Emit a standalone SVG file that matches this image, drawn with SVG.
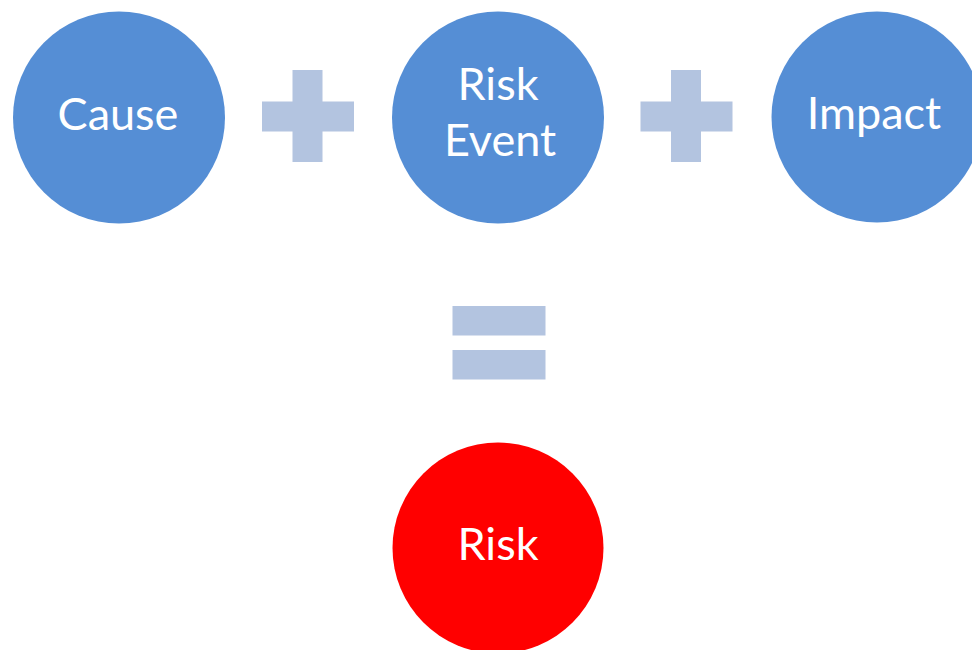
<svg xmlns="http://www.w3.org/2000/svg" width="972" height="650" viewBox="0 0 972 650">
<style>
.node{fill:#558ED5}
.risk{fill:#FF0000}
.op{fill:#B3C4E0}
.lbl{font-family:Lato,"Open Sans",sans-serif;font-size:45px;fill:#FFFFFF;text-anchor:middle}
</style>
<rect width="972" height="650" fill="#FFFFFF"/>
<g id="cause">
<circle class="node" cx="119" cy="117.5" r="106"/>
<text class="lbl" x="118" y="130">Cause</text>
</g>
<g id="plus1">
<rect class="op" x="262" y="101.5" width="92" height="30"/>
<rect class="op" x="292.5" y="70" width="30" height="92"/>
</g>
<g id="risk-event">
<circle class="node" cx="498" cy="117.5" r="106"/>
<text class="lbl" x="498" y="100">Risk</text>
<text class="lbl" x="500" y="156">Event</text>
</g>
<g id="plus2">
<rect class="op" x="640.5" y="101.5" width="92" height="30"/>
<rect class="op" x="671" y="70" width="30" height="92"/>
</g>
<g id="impact">
<circle class="node" cx="877" cy="117" r="105.5"/>
<text class="lbl" x="874" y="129">Impact</text>
</g>
<g id="equals">
<rect class="op" x="452.5" y="306" width="93" height="29.5"/>
<rect class="op" x="452.5" y="350" width="93" height="29.5"/>
</g>
<g id="risk">
<circle class="risk" cx="498" cy="548" r="105.5"/>
<text class="lbl" x="498" y="560">Risk</text>
</g>
<g id="connectors"></g>
</svg>
